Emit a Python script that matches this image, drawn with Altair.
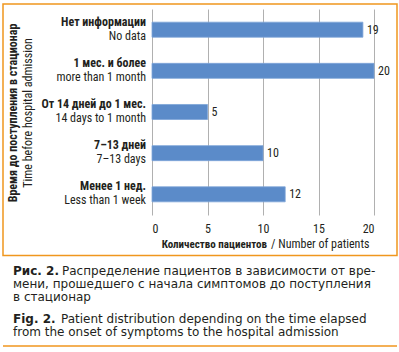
import altair as alt
import pandas as pd

cats_ru = ["Нет информации", "1 мес. и более", "От 14 дней до 1 мес.", "7–13 дней", "Менее 1 нед."]
cats_en = ["No data", "more than 1 month", "14 days to 1 month", "7–13 days", "Less than 1 week"]
values = [19, 20, 5, 10, 12]
x_ticks = [0, 5, 10, 15, 20]

y_title_ru = "Время до поступления в стационар"
y_title_en = "Time before hospital admission"
x_title_ru = "Количество пациентов"
x_title_en = "/ Number of patients"
cap_ru_bold = "Рис. 2."
cap_ru = ["Распределение пациентов в зависимости от вре-",
          "мени, прошедшего с начала симптомов до поступления",
          "в стационар"]
cap_en_bold = "Fig. 2."
cap_en = ["Patient distribution depending on the time elapsed",
          "from the onset of symptoms to the hospital admission"]

FONT = "Liberation Sans Narrow, Roboto Condensed, Liberation Sans, sans-serif"
CAPFONT = "DejaVu Sans, Liberation Sans, sans-serif"
TXT = "#231f20"
ORANGE = "#f0961e"
BAR = "#5b8bc9"

df = pd.DataFrame({"ru": cats_ru, "en": cats_en, "value": values})
one = pd.DataFrame({"k": [0]})

yenc = alt.Y("ru:N", sort=cats_ru, axis=None,
             scale=alt.Scale(paddingInner=0.635, paddingOuter=0.32))

base = alt.Chart(df)

bars = base.mark_bar(color=BAR, stroke="#7ea5d8", strokeWidth=0.8).encode(
    x=alt.X("value:Q", scale=alt.Scale(domain=[0, 20], nice=False),
            axis=alt.Axis(values=x_ticks, title=None, grid=True, gridColor="#b0b0b0",
                          gridWidth=1, ticks=False, domain=False, labelFont=FONT,
                          labelFontSize=12, labelColor=TXT, labelPadding=8)),
    y=yenc,
)

vals = base.mark_text(align="left", baseline="middle", dx=4, font=FONT, fontSize=12,
                      color=TXT).encode(x="value:Q", y=yenc, text="value:Q")

lab_ru = base.mark_text(align="right", baseline="middle", dy=-8, font=FONT, fontSize=12,
                        fontWeight="bold", color=TXT).encode(
    x=alt.value(-6), y=yenc, text="ru:N")
lab_en = base.mark_text(align="right", baseline="middle", dy=6, font=FONT, fontSize=12,
                        color=TXT).encode(
    x=alt.value(-6), y=yenc, text="en:N")

ann = alt.Chart(one)


def txt(s, x, y, **kw):
    opts = dict(font=FONT, fontSize=12, color=TXT, baseline="alphabetic", align="left")
    opts.update(kw)
    return ann.mark_text(**opts).encode(x=alt.value(x), y=alt.value(y), text=alt.value(s))


layers = [bars, vals, lab_ru, lab_en]
layers.append(txt(y_title_ru, -139, 104, angle=270, align="center", baseline="middle",
                  fontWeight="bold", fontSize=12))
layers.append(txt(y_title_en, -124, 104, angle=270, align="center", baseline="middle",
                  fontSize=12))
layers.append(txt(x_title_ru, 115, 239, align="right", fontWeight="bold", fontSize=11))
layers.append(txt(x_title_en, 119, 239))

# caption
cap = dict(font=CAPFONT, fontSize=12)
layers.append(txt(cap_ru_bold, -139, 266, fontWeight="bold", **cap))
layers.append(txt(cap_ru[0], -90, 266, **cap))
layers.append(txt(cap_ru[1], -139, 278.7, **cap))
layers.append(txt(cap_ru[2], -139, 291.5, **cap))
layers.append(txt(cap_en_bold, -139, 314, fontWeight="bold", **cap))
layers.append(txt(cap_en[0], -91, 314, **cap))
layers.append(txt(cap_en[1], -139, 327, **cap))

frame = ann.mark_rect(fill=None, stroke=ORANGE, strokeWidth=1.5).encode(
    x=alt.value(-149), x2=alt.value(245), y=alt.value(-5), y2=alt.value(246.5))
bottom_line = ann.mark_rule(color=ORANGE, strokeWidth=1.5).encode(
    x=alt.value(-149), x2=alt.value(245), y=alt.value(337))
layers += [frame, bottom_line]

chart = alt.layer(*layers).properties(
    width=222, height=206,
    autosize=alt.AutoSizeParams(type="none"),
    padding={"left": 152, "top": 9, "right": 25, "bottom": 137},
    background="white",
).configure_view(stroke=None)

chart.save("out.html", embed_options={"renderer": "svg", "actions": False})
